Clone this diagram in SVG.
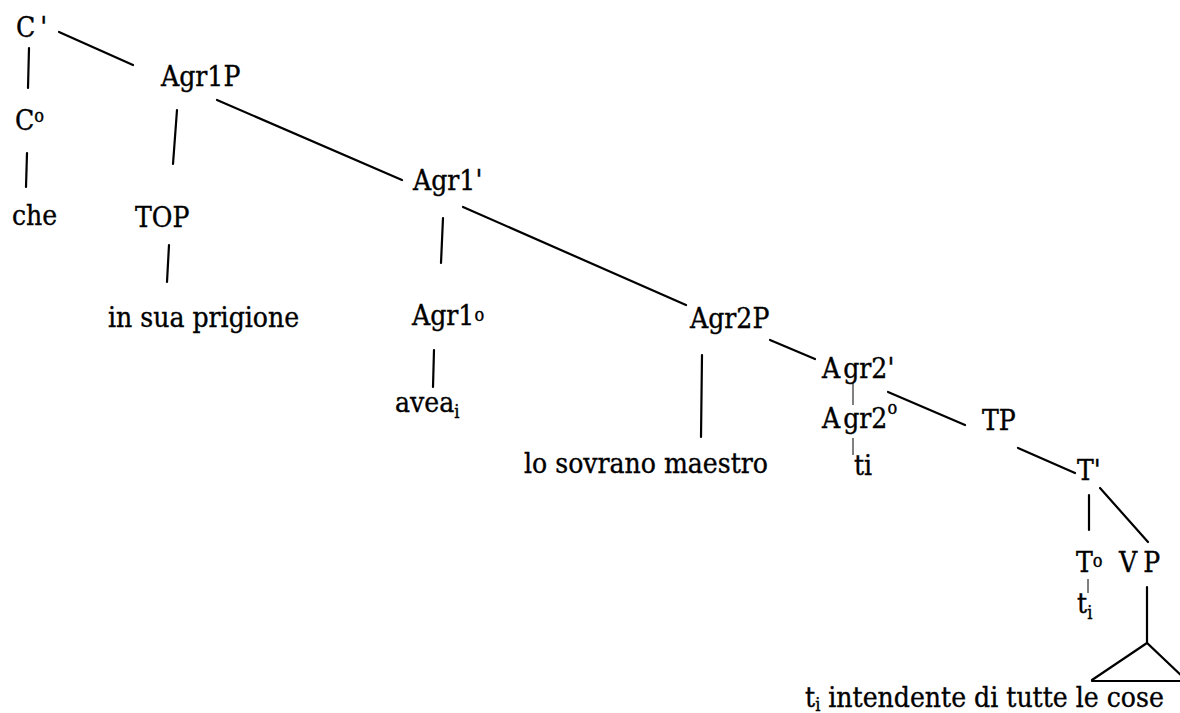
<svg xmlns="http://www.w3.org/2000/svg" width="1180" height="713" viewBox="0 0 1180 713">
<style>
.e{stroke:#000;stroke-width:2.2;fill:none;stroke-linecap:round}
.t{stroke:#000;stroke-width:1;fill:none}
.s{font-size:18px}
</style>
<rect width="1180" height="713" fill="#fff"/>
<g id="connectors">
<line class="e" x1="59" y1="32" x2="133" y2="65"/>
<line class="e" x1="29" y1="48" x2="28" y2="88"/>
<line class="e" x1="27" y1="153" x2="26" y2="187"/>
<line class="e" x1="177" y1="110" x2="173" y2="164"/>
<line class="e" x1="217" y1="100" x2="402" y2="180"/>
<line class="e" x1="169" y1="245" x2="167" y2="282"/>
<line class="e" x1="443" y1="218" x2="441" y2="263"/>
<line class="e" x1="463" y1="207" x2="686" y2="305"/>
<line class="e" x1="434" y1="350" x2="433" y2="387"/>
<line class="e" x1="702" y1="355" x2="701" y2="437"/>
<line class="e" x1="770" y1="340" x2="815" y2="359"/>
<line class="t" x1="853" y1="383" x2="853" y2="405"/>
<line class="t" x1="853" y1="438" x2="853" y2="455"/>
<line class="e" x1="888" y1="392" x2="965" y2="425"/>
<line class="e" x1="1018" y1="448" x2="1075" y2="473"/>
<line class="e" x1="1089" y1="495" x2="1089" y2="530"/>
<line class="e" x1="1100" y1="488" x2="1148" y2="542"/>
<line class="t" x1="1088" y1="579" x2="1088" y2="593"/>
<line class="e" x1="1147" y1="587" x2="1147" y2="643"/>
<path class="e" d="M1092,680 L1147,643 L1186,680 M1092,681 L1180,681"/>
</g>
<g id="nodes" font-family="DejaVu Serif Condensed, DejaVu Serif, serif" font-stretch="condensed" font-size="28" fill="#000" stroke="#000" stroke-width="0.35">
<g id="n-Cbar"><text x="16" y="37">C<tspan dx="5">'</tspan></text></g>
<g id="n-Agr1P"><text x="161" y="86">Agr1P</text></g>
<g id="n-C0"><text x="15" y="130">C<tspan class="s" dy="-8">o</tspan></text></g>
<g id="n-che"><text x="12" y="225">che</text></g>
<g id="n-TOP"><text x="135" y="227">TOP</text></g>
<g id="n-Agr1bar"><text x="413" y="190">Agr1'</text></g>
<g id="n-prigione"><text x="108" y="327">in sua prigione</text></g>
<g id="n-Agr10"><text x="412" y="325">Agr1<tspan class="s" dy="-4">o</tspan></text></g>
<g id="n-aveai"><text x="395" y="412">avea<tspan class="s" dy="6">i</tspan></text></g>
<g id="n-Agr2P"><text x="690" y="328">Agr2P</text></g>
<g id="n-maestro"><text x="524" y="473">lo sovrano maestro</text></g>
<g id="n-Agr2bar"><text x="822" y="378">A<tspan dx="3">gr2'</tspan></text></g>
<g id="n-Agr20"><text x="822" y="428">A<tspan dx="3">gr2</tspan><tspan class="s" dy="-14">o</tspan></text></g>
<g id="n-ti1"><text x="854" y="475">ti</text></g>
<g id="n-TP"><text x="982" y="430">TP</text></g>
<g id="n-Tbar"><text x="1077" y="480">T'</text></g>
<g id="n-T0"><text x="1076" y="572">T<tspan class="s" dy="-5">o</tspan></text></g>
<g id="n-VP"><text x="1119" y="572">V<tspan dx="6">P</tspan></text></g>
<g id="n-ti2"><text x="1077" y="613">t<tspan class="s" dy="6">i</tspan></text></g>
<g id="n-cose"><text x="805" y="707">t<tspan class="s" dy="4">i</tspan><tspan dy="-4"> intendente di tutte le cose</tspan></text></g>
</g>
</svg>
